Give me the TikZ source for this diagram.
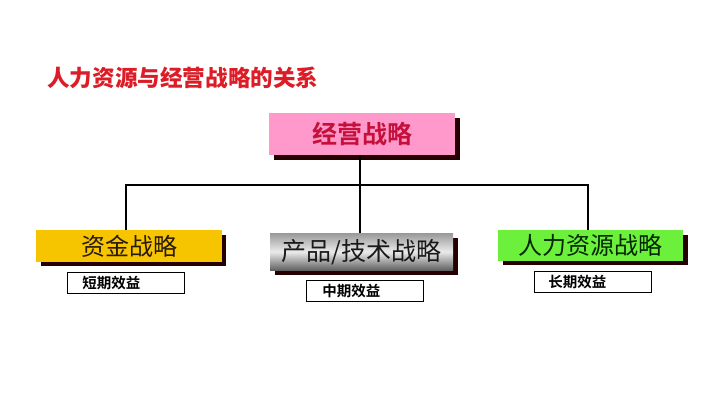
\documentclass[tikz,border=0pt]{standalone}
\usepackage{fontspec}
\newfontfamily\cjk{Noto Sans CJK SC}
\newfontfamily\cjkb{Noto Sans CJK SC Bold}
\newfontfamily\cjkk{Noto Sans CJK SC Black}
\begin{document}
\begin{tikzpicture}[x=1pt,y=-1pt,
  strat/.style={minimum height=#1, inner sep=0pt, anchor=north west},
  shadowbox/.style={fill=black!85!red},
  lab/.style={draw=black, line width=0.8pt, fill=white, inner sep=0pt, anchor=north west, minimum height=21pt, text width=117pt},
  conn/.style={line width=2.6pt, black}]
\useasboundingbox (0,0) rectangle (720,405);
\definecolor{titlered}{HTML}{DC1C26}
\definecolor{pinkbox}{HTML}{FF99CC}
\definecolor{darkred}{HTML}{C4103A}
\definecolor{goldbox}{HTML}{F7C500}
\definecolor{greenbox}{HTML}{6CF03C}

\node[anchor=west, inner sep=0pt, text=titlered] (title) at (47,78) {\cjkk\fontsize{22.6}{24}\selectfont 人力资源与经营战略的关系};

% shadows
\fill[shadowbox] (274,118) rectangle (460,160);
\fill[shadowbox] (41,235) rectangle (226,266);
\fill[shadowbox] (275,238) rectangle (458,275);
\fill[shadowbox] (503,235) rectangle (688,265);

% connectors
\coordinate (hl) at (126,185);
\coordinate (hr) at (588,185);
\coordinate (hm) at (360,185);

% boxes
\node[strat=42pt, minimum width=186pt, fill=pinkbox] (top) at (269,113) {};
\node[text=darkred] at (top.center) {\cjkb\fontsize{25}{26}\selectfont 经营战略};

\node[strat=32pt, minimum width=186pt, fill=goldbox] (left) at (36,230) {};
\node[text=black!80!brown] at (left.center) {\cjk\fontsize{24}{26}\selectfont 资金战略};

\node[strat=37pt, minimum width=183pt, top color=black!40, bottom color=black!62, middle color=black!8] (mid) at (270,233) {};
\node[text=black!90] at (mid.center) {\cjk\fontsize{25}{26}\selectfont 产品/技术战略};

\node[strat=31pt, minimum width=185pt, fill=greenbox] (right) at (498,230) {};
\node[text=black!85!green] at (right.center) {\cjk\fontsize{24}{26}\selectfont 人力资源战略};

\draw[conn] (top.south -| hm) -- (hm) -- (mid.north -| hm);
\draw[conn] (hm) -- (hl) -- (left.north -| hl);
\draw[conn] (hm) -- (hr) -- (right.north -| hr);

% labels
\node[lab] (l1) at (67,272) {\hspace*{15pt}\cjkb\fontsize{14.5}{15}\selectfont 短期效益};
\node[lab] (l2) at (306,280) {\hspace*{16pt}\cjkb\fontsize{14.5}{15}\selectfont 中期效益};
\node[lab] (l3) at (534,271) {\hspace*{14pt}\cjkb\fontsize{14.5}{15}\selectfont 长期效益};
\end{tikzpicture}
\end{document}
